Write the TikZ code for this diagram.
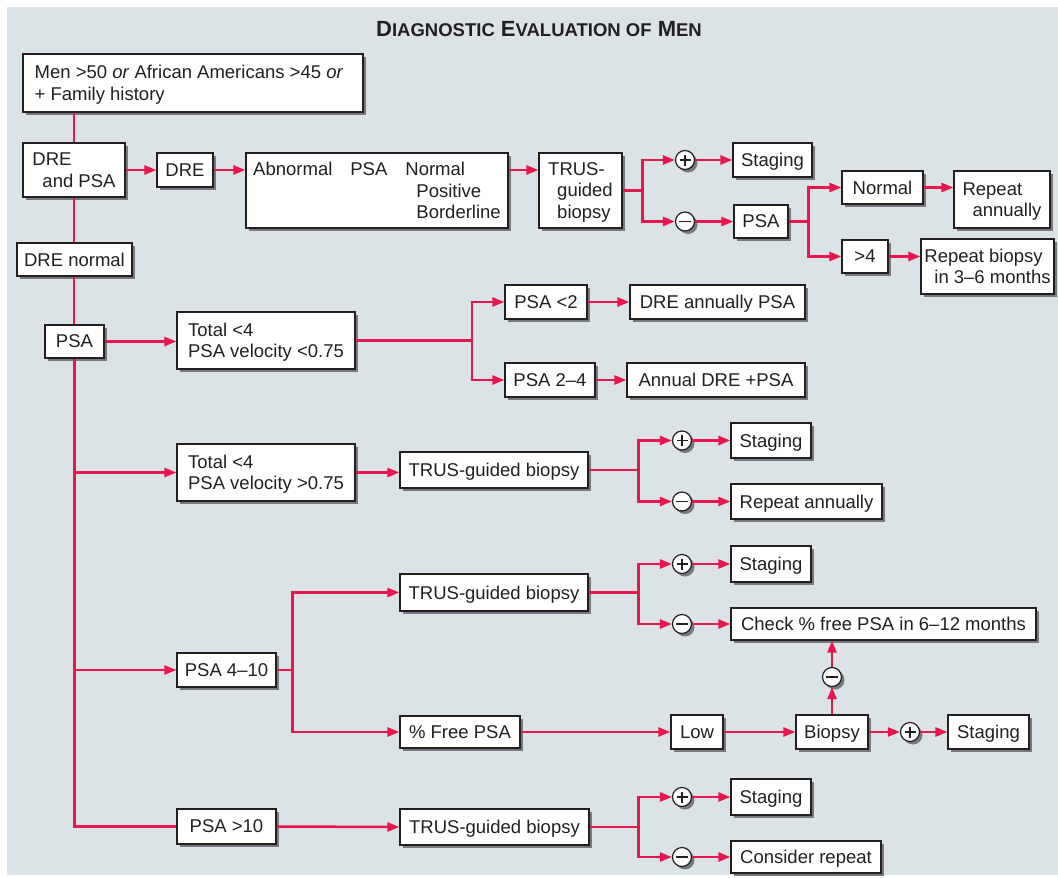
\documentclass[tikz,border=0pt]{standalone}
\usepackage{fontspec}
\setmainfont{Liberation Sans}
\usetikzlibrary{arrows.meta,shadows}
\definecolor{bgc}{RGB}{220,227,231}
\definecolor{redc}{RGB}{232,22,78}
\definecolor{shc}{RGB}{118,121,125}
\definecolor{inkc}{RGB}{35,31,32}
\newcommand\mybox[7][]{%
  \pgfmathsetmacro\bxc{(#3+#5)/2}%
  \pgfmathsetmacro\byc{(#4+#6)/2}%
  \pgfmathsetmacro\bw{#5-#3}%
  \pgfmathsetmacro\bh{#6-#4}%
  \node[box,minimum width=\bw pt,minimum height=\bh pt,#1] (#2) at (\bxc,\byc) {#7};%
}
\tikzset{
  shad/.style={drop shadow={shadow xshift=3pt,shadow yshift=-3pt,fill=shc,opacity=1}},
  box/.style={rectangle,draw=inkc,line width=1.2pt,fill=white,inner xsep=2pt,inner ysep=0pt,
    align=left,text depth=0pt,font=\fontsize{18.5}{21.5}\selectfont,text=inkc,shad},
  pm/.style={circle,draw=inkc,line width=1.2pt,fill=white,minimum size=19pt,inner sep=0pt,shad},
  pluscirc/.style={pm,path picture={\draw[line width=1.4pt,inkc]
      ([xshift=-5.5pt]path picture bounding box.center) -- ([xshift=5.5pt]path picture bounding box.center)
      ([yshift=-5.5pt]path picture bounding box.center) -- ([yshift=5.5pt]path picture bounding box.center);}},
  minuscirc/.style={pm,path picture={\draw[line width=1.4pt,inkc]
      ([xshift=-6pt]path picture bounding box.center) -- ([xshift=6pt]path picture bounding box.center);}},
  ln/.style={draw=redc,line width=2.5pt},
  arr/.style={ln,-{Triangle[length=12pt,width=9pt]}}
}
\begin{document}
\begin{tikzpicture}[x=1pt,y=-1pt]
\useasboundingbox (0,0) rectangle (1058,878);
\fill[bgc] (7,7) rectangle (1058,875);
\node[anchor=base,text=inkc,font=\bfseries] (title) at (539,36.7)
  {\fontsize{22}{26}\selectfont D{\fontsize{18.5}{22}\selectfont IAGNOSTIC} E{\fontsize{18.5}{22}\selectfont VALUATION OF} M{\fontsize{18.5}{22}\selectfont EN}};

% left column
\mybox{top}{23}{54}{363}{112}{Men >50 \textit{or} African Americans >45 \textit{or}\hspace*{8pt}\\+ Family history}
\mybox{drepsa}{23}{143}{125}{197}{DRE\\\hspace*{10pt}and PSA}
\mybox{drenorm}{17}{243}{132}{276}{DRE normal}
\mybox{psa}{45}{325}{104}{358}{PSA}

% top row
\mybox{dre}{157}{153}{213}{187}{DRE}
\mybox{abn}{246}{153}{508}{228}{Abnormal\hspace{18pt}PSA\hspace{18pt}Normal\\
  \phantom{Abnormal\hspace{18pt}PSA\hspace{18pt}}\hspace*{11pt}Positive\\
  \phantom{Abnormal\hspace{18pt}PSA\hspace{18pt}}\hspace*{11pt}Borderline}
\mybox{trus1}{539}{153}{622}{228}{TRUS-\\\hspace*{9pt}guided\\\hspace*{9pt}biopsy}
\node[pluscirc] (p1) at (685,160) {};
\node[minuscirc] (m1) at (685,221.5) {};
\mybox{stg1}{733}{143}{812}{177}{Staging}
\mybox{psa1}{734}{205}{788}{238}{PSA}
\mybox{norm}{842}{171}{923}{204}{Normal}
\mybox{repann1}{954}{171}{1050}{228}{Repeat\\\hspace*{10pt}annually}
\mybox{gt4}{842}{240}{888}{273}{>4}
\mybox{repbiop}{921}{239}{1054}{294}{Repeat biopsy\\\hspace*{10pt}in 3–6 months}

% section 2
\mybox{tot1}{177}{312}{355}{369}{Total <4\\PSA velocity <0.75}
\coordinate (f3) at (472,340.5);
\mybox{psa2}{505}{285}{587}{319}{PSA <2}
\mybox{dreann}{630}{285}{805}{319}{DRE annually PSA}
\mybox{psa24}{505}{363}{595}{397}{PSA 2–4}
\mybox{annDRE}{627}{363}{805}{397}{Annual DRE +PSA}

% section 3
\mybox{tot2}{177}{444}{355}{501}{Total <4\\PSA velocity >0.75}
\mybox{trus2}{400}{452}{588}{488}{TRUS-guided biopsy}
\node[pluscirc] (p2) at (682,440.5) {};
\node[minuscirc] (m2) at (682,501.5) {};
\mybox{stg2}{731}{423}{811}{458}{Staging}
\mybox{repann2}{731}{484}{882}{519}{Repeat annually}

% section 4
\mybox{psa410}{177}{653}{276}{687}{PSA 4–10}
\mybox{trus3}{400}{574}{588}{611}{TRUS-guided biopsy}
\node[pluscirc] (p3) at (682,564) {};
\node[minuscirc] (m3) at (682,624) {};
\mybox{stg3}{731}{546}{811}{582}{Staging}
\mybox{check}{731}{608}{1036}{640}{Check \% free PSA in 6–12 months}
\mybox{freepsa}{400}{716}{520}{748}{\% Free PSA}
\mybox{low}{671}{715}{723}{749}{Low}
\mybox{biopsy}{796}{715}{868}{749}{Biopsy}
\node[minuscirc] (m4) at (832,677) {};
\node[pluscirc] (p4) at (910,732) {};
\mybox{stg4}{948}{715}{1029}{749}{Staging}

% section 5
\mybox{psa10}{177}{809}{276}{844}{PSA >10}
\mybox{trus4}{400}{809}{589}{845}{TRUS-guided biopsy}
\node[pluscirc] (p5) at (682,797) {};
\node[minuscirc] (m5) at (682,857) {};
\mybox{stg5}{731}{779}{811}{815}{Staging}
\mybox{consrep}{731}{841}{881}{873}{Consider repeat}

% trunk
\draw[ln] (top.south -| drepsa.north) -- (drepsa.north);
\draw[ln] (drepsa.south) -- (drepsa.south |- drenorm.north);
\draw[ln] (drepsa.south |- drenorm.south) -- (drepsa.south |- psa.north);
\draw[ln] (psa.south) |- (psa10.west);
\draw[arr] (psa.south |- tot2.west) -- (tot2.west);
\draw[arr] (psa.south |- psa410.west) -- (psa410.west);

% top row connectors
\draw[arr] (drepsa.east) -- (drepsa.east -| dre.west);
\draw[arr] (dre.east) -- (dre.east -| abn.west);
\draw[arr] (abn.east |- dre.east) -- (trus1.west |- dre.east);
\draw[ln] (trus1.east) -- ++(20,0) coordinate (f1);
\draw[arr] (f1) |- (p1.west);
\draw[arr] (f1) |- (m1.west);
\draw[arr] (p1.east) -- (stg1.west);
\draw[arr] (m1.east) -- (psa1.west);
\draw[ln] (psa1.east) -- ++(20,0) coordinate (f2);
\draw[arr] (f2) |- (norm.west);
\draw[arr] (f2) |- (gt4.west);
\draw[arr] (norm.east) -- (norm.east -| repann1.west);
\draw[arr] (gt4.east) -- (gt4.east -| repbiop.west);

% section 2 connectors
\draw[arr] (psa.east) -- (psa.east -| tot1.west);
\draw[ln] (tot1.east) -- (f3);
\draw[arr] (f3) |- (psa2.west);
\draw[arr] (f3) |- (psa24.west);
\draw[arr] (psa2.east) -- (dreann.west);
\draw[arr] (psa24.east) -- (annDRE.west);

% section 3 connectors
\draw[arr] (tot2.east) -- (tot2.east -| trus2.west);
\draw[ln] (trus2.east) -- ++(50,0) coordinate (f4);
\draw[arr] (f4) |- (p2.west);
\draw[arr] (f4) |- (m2.west);
\draw[arr] (p2.east) -- (stg2.west);
\draw[arr] (m2.east) -- (repann2.west);

% section 4 connectors
\draw[ln] (psa410.east) -- ++(16,0) coordinate (f5);
\draw[arr] (f5) |- (trus3.west);
\draw[arr] (f5) |- (freepsa.west);
\draw[ln] (trus3.east) -- ++(50,0) coordinate (f6);
\draw[arr] (f6) |- (p3.west);
\draw[arr] (f6) |- (m3.west);
\draw[arr] (p3.east) -- (stg3.west);
\draw[arr] (m3.east) -- (check.west);
\draw[arr] (freepsa.east) -- (low.west);
\draw[arr] (low.east) -- (biopsy.west);
\draw[arr] (biopsy.east) -- (p4.west);
\draw[arr] (p4.east) -- (stg4.west);
\draw[arr] (biopsy.north) -- (m4.south);
\draw[arr] (m4.north) -- (m4.north |- check.south);

% section 5 connectors
\draw[arr] (psa10.east) -- (trus4.west);
\draw[ln] (trus4.east) -- ++(49,0) coordinate (f7);
\draw[arr] (f7) |- (p5.west);
\draw[arr] (f7) |- (m5.west);
\draw[arr] (p5.east) -- (stg5.west);
\draw[arr] (m5.east) -- (consrep.west);
\end{tikzpicture}
\end{document}
